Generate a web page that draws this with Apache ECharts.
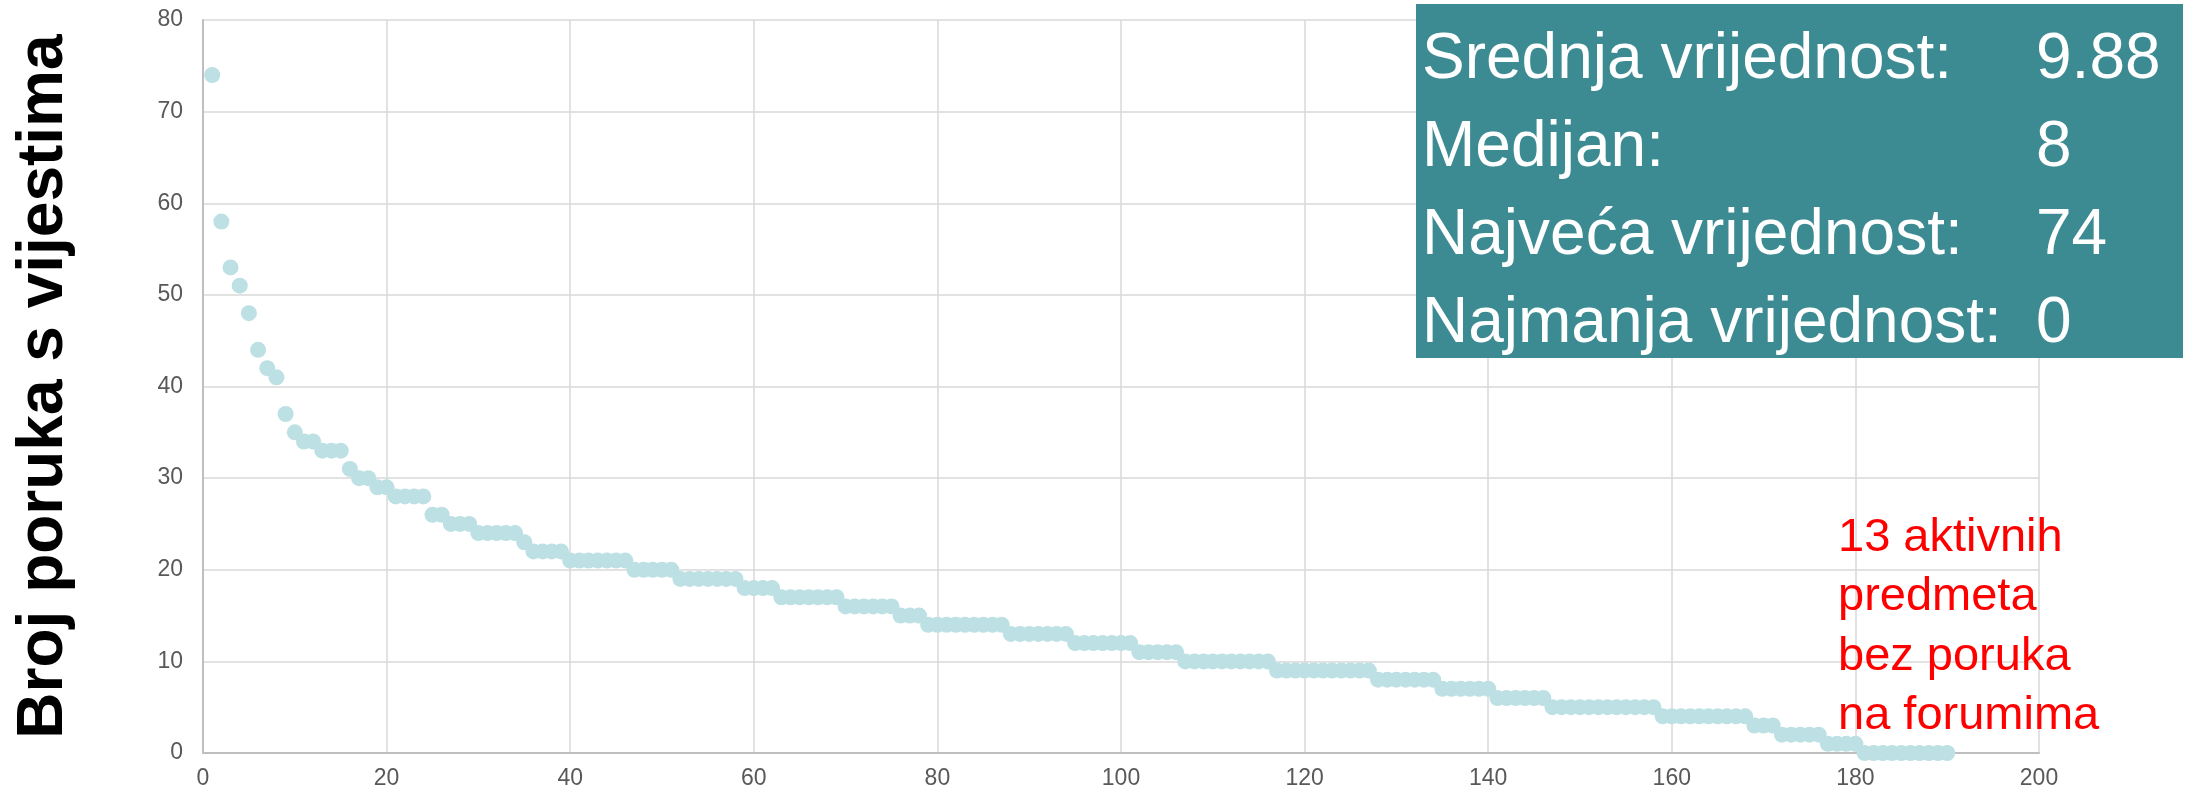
<!DOCTYPE html>
<html>
<head>
<meta charset="utf-8">
<script src="https://cdn.jsdelivr.net/npm/echarts@6/dist/echarts.min.js"></script>
<style>
html,body{margin:0;padding:0;background:#fff;}
#chart{width:2187px;height:793px;}
</style>
</head>
<body>
<div id="chart"></div>
<script>
// Number of news-forum posts per course, sorted descending (rank 1..190)
const postCounts = [
  74,58,53,51,48,44,42,41,37,35,
  34,34,33,33,33,31,30,30,29,29,
  28,28,28,28,26,26,25,25,25,24,
  24,24,24,24,23,22,22,22,22,21,
  21,21,21,21,21,21,20,20,20,20,
  20,19,19,19,19,19,19,19,18,18,
  18,18,17,17,17,17,17,17,17,16,
  16,16,16,16,16,15,15,15,14,14,
  14,14,14,14,14,14,14,13,13,13,
  13,13,13,13,12,12,12,12,12,12,
  12,11,11,11,11,11,10,10,10,10,
  10,10,10,10,10,10,9,9,9,9,
  9,9,9,9,9,9,9,8,8,8,
  8,8,8,8,7,7,7,7,7,7,
  6,6,6,6,6,6,5,5,5,5,
  5,5,5,5,5,5,5,5,4,4,
  4,4,4,4,4,4,4,4,3,3,
  3,2,2,2,2,2,1,1,1,1,
  0,0,0,0,0,0,0,0,0,0
];
const yAxisTitle = 'Broj poruka s vijestima';
const statLabels = ['Srednja vrijednost:', 'Medijan:', 'Najveća vrijednost:', 'Najmanja vrijednost:'];
const statValues = ['9.88', '8', '74', '0'];
const noteLines = ['13 aktivnih', 'predmeta', 'bez poruka', 'na forumima'];

const FONT = '"Liberation Sans", Arial, sans-serif';
const points = postCounts.map((v, i) => [i + 1, v]);

const graphics = [{
  type: 'rect', shape: {x: 1416, y: 4, width: 767, height: 354},
  style: {fill: '#3d8b92'}, z: 100
}];
statLabels.forEach((t, i) => {
  const y = 60 + i * 88;
  graphics.push({type: 'text', x: 1422, y: y, z: 101,
    style: {text: t, fill: '#ffffff', font: '64px ' + FONT, verticalAlign: 'middle', align: 'left'}});
  graphics.push({type: 'text', x: 2036, y: y, z: 101,
    style: {text: statValues[i], fill: '#ffffff', font: '64px ' + FONT, verticalAlign: 'middle', align: 'left'}});
});
noteLines.forEach((t, i) => {
  graphics.push({type: 'text', x: 1838, y: 538 + i * 59.5, z: 101,
    style: {text: t, fill: '#ff0000', font: '47px ' + FONT, verticalAlign: 'middle', align: 'left'}});
});

const chart = echarts.init(document.getElementById('chart'));
chart.setOption({
  animation: false,
  backgroundColor: '#ffffff',
  grid: {left: 203, right: 148, top: 20, bottom: 40, containLabel: false, outerBoundsMode: 'none'},
  xAxis: {
    type: 'value', min: 0, max: 200, interval: 20,
    axisLine: {show: true, lineStyle: {color: '#bfbfbf', width: 2}},
    axisTick: {show: false},
    axisLabel: {color: '#595959', fontSize: 23, fontFamily: FONT, margin: 14},
    splitLine: {show: true, lineStyle: {color: '#d9d9d9', width: 1.5}}
  },
  yAxis: {
    type: 'value', min: 0, max: 80, interval: 10,
    name: yAxisTitle, nameLocation: 'middle', nameRotate: 90, nameGap: 127,
    nameTextStyle: {color: '#000000', fontSize: 64, fontWeight: 'bold', fontFamily: FONT},
    axisLine: {show: true, lineStyle: {color: '#bfbfbf', width: 2}},
    axisTick: {show: false},
    axisLabel: {color: '#595959', fontSize: 23, fontFamily: FONT, margin: 20},
    splitLine: {show: true, lineStyle: {color: '#d9d9d9', width: 1.5}}
  },
  series: [{
    type: 'scatter',
    data: points,
    symbol: 'circle',
    symbolSize: 16,
    itemStyle: {color: '#bce0e3', opacity: 1},
    clip: false
  }],
  graphic: graphics
});
</script>
</body>
</html>
